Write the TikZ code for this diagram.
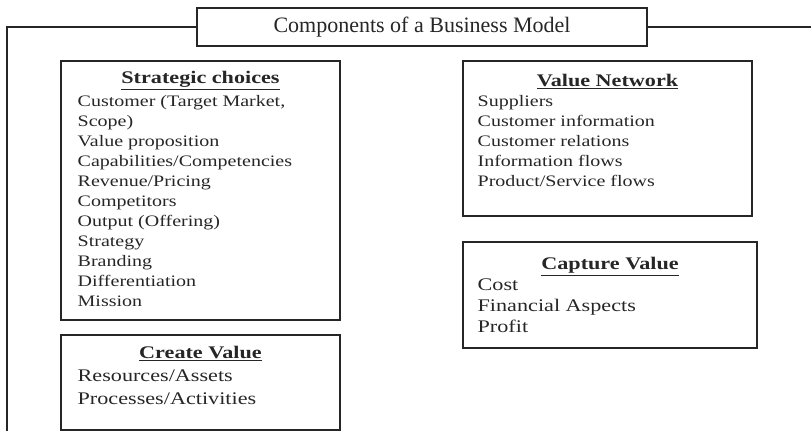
\documentclass[tikz,border=0pt]{standalone}
\usepackage{fontspec}
\setmainfont{Liberation Serif}
\newfontfamily\boxfont[FakeStretch=1.25]{Liberation Serif}
\usetikzlibrary{positioning}

\tikzset{
  frame/.style={draw=black!85, line width=0.9pt},
  box/.style={frame, rectangle, inner sep=0pt},
  head/.style={font=\boxfont\fontsize{13.3}{16}\selectfont\bfseries, text=black!85, anchor=base, inner sep=0pt},
  list/.style={font=\boxfont\fontsize{12}{15}\selectfont, text=black!85, align=left, anchor=base west, inner sep=0pt},
}

\begin{document}
\begin{tikzpicture}[x=0.75pt, y=-0.75pt]
\useasboundingbox (0,0) rectangle (811,431);

% title and outer frame
\node[box, minimum width=337.5pt, minimum height=28.5pt, text=black!85,
      font=\fontsize{16.5}{20}\selectfont] (title) at (422,27) {Components of a Business Model};
\coordinate (frametl) at (7,27);
\coordinate (framebl) at (7,433);
\coordinate (framer) at (813,27);
\draw[frame] (title.west) -- (frametl) -- (framebl);
\draw[frame] (title.east) -- (framer);

% the four boxes
\node[box, minimum width=209.25pt, minimum height=194.25pt] (strategic) at (200.5,190.5) {};
\node[box, minimum width=209.25pt, minimum height=71.25pt] (create) at (200.5,382.5) {};
\node[box, minimum width=216.75pt, minimum height=116.25pt] (network) at (607.5,138.5) {};
\node[box, minimum width=220.5pt, minimum height=79.5pt] (capture) at (610,295) {};

% headings
\node[head] (strategichead) at ([yshift=-17.25pt]strategic.north) {\underline{Strategic choices}};
\node[head] (createhead) at ([yshift=-18pt]create.north) {\underline{Create Value}};
\node[head] (networkhead) at ([yshift=-19.5pt]network.north) {\underline{Value Network}};
\node[head] (capturehead) at ([yshift=-21pt]capture.north) {\underline{Capture Value}};

% contents (base = last line)
\node[list] (strategiclist) at ([shift={(12.75pt,-184.5pt)}]strategic.north west)
  {Customer (Target Market,\\ Scope)\\ Value proposition\\ Capabilities/Competencies\\
   Revenue/Pricing\\ Competitors\\ Output (Offering)\\ Strategy\\ Branding\\
   Differentiation\\ Mission};
\node[list, font=\boxfont\fontsize{13.3}{17.25}\selectfont] (createlist)
  at ([shift={(12.75pt,-52.5pt)}]create.north west)
  {Resources/Assets\\ Processes/Activities};
\node[list] (networklist) at ([shift={(11.25pt,-94.5pt)}]network.north west)
  {Suppliers\\ Customer information\\ Customer relations\\ Information flows\\
   Product/Service flows};
\node[list, font=\boxfont\fontsize{13.3}{15.75}\selectfont] (capturelist)
  at ([shift={(11.25pt,-68.25pt)}]capture.north west)
  {Cost\\ Financial Aspects\\ Profit};
\end{tikzpicture}
\end{document}
